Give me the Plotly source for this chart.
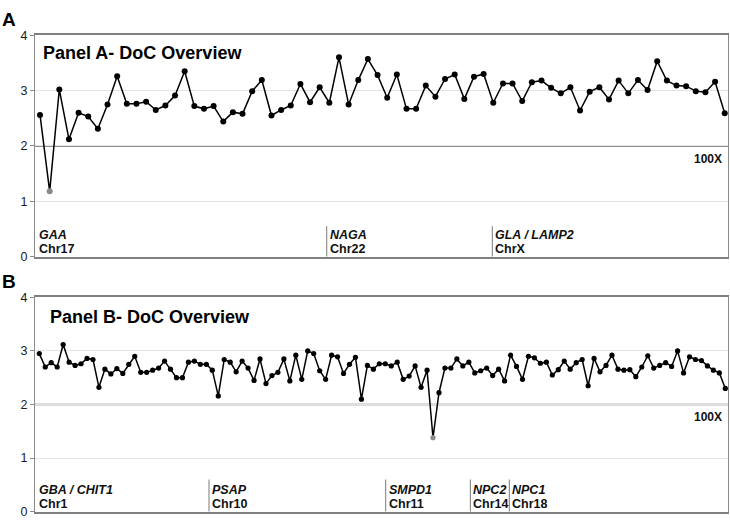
import plotly.graph_objects as go

# ---------------- data ----------------
panel_a_values = [
    2.56, 1.18, 3.02, 2.12, 2.60, 2.53, 2.31, 2.75, 3.26, 2.76,
    2.76, 2.80, 2.65, 2.73, 2.91, 3.35, 2.72, 2.67, 2.72, 2.44,
    2.61, 2.58, 2.99, 3.19, 2.55, 2.65, 2.73, 3.12, 2.79, 3.06,
    2.78, 3.60, 2.75, 3.19, 3.57, 3.28, 2.87, 3.29, 2.67, 2.67,
    3.09, 2.89, 3.21, 3.29, 2.85, 3.25, 3.30, 2.78, 3.13, 3.13,
    2.81, 3.15, 3.18, 3.05, 2.95, 3.06, 2.64, 2.98, 3.06, 2.84,
    3.18, 2.95, 3.19, 3.01, 3.53, 3.18, 3.09, 3.08, 2.99, 2.97,
    3.16, 2.59,
]
panel_b_values = [
    2.95, 2.70, 2.78, 2.70, 3.12, 2.79, 2.73, 2.76, 2.86, 2.84,
    2.32, 2.66, 2.57, 2.67, 2.58, 2.75, 2.90, 2.60, 2.60, 2.64,
    2.68, 2.81, 2.66, 2.50, 2.50, 2.79, 2.81, 2.75, 2.75, 2.64,
    2.16, 2.84, 2.79, 2.61, 2.81, 2.68, 2.45, 2.85, 2.39, 2.54,
    2.60, 2.85, 2.44, 2.92, 2.47, 3.00, 2.95, 2.63, 2.47, 2.92,
    2.89, 2.58, 2.75, 2.88, 2.10, 2.73, 2.66, 2.76, 2.76, 2.72,
    2.79, 2.47, 2.53, 2.72, 2.32, 2.64, 1.38, 2.22, 2.68, 2.68,
    2.85, 2.72, 2.79, 2.59, 2.63, 2.68, 2.54, 2.66, 2.44, 2.92,
    2.71, 2.47, 2.90, 2.87, 2.77, 2.79, 2.55, 2.65, 2.81, 2.66,
    2.78, 2.84, 2.35, 2.86, 2.61, 2.73, 2.92, 2.66, 2.64, 2.65,
    2.52, 2.70, 2.91, 2.68, 2.73, 2.78, 2.71, 3.00, 2.59, 2.89,
    2.84, 2.82, 2.72, 2.64, 2.59, 2.30,
]

panel_a_genes = ["GAA", "NAGA", "GLA / LAMP2"]
panel_a_chroms = ["Chr17", "Chr22", "ChrX"]
panel_a_gene_starts = [None, 29.73, 46.9]   # None = starts at the axis

panel_b_genes = ["GBA / CHIT1", "PSAP", "SMPD1", "NPC2", "NPC1"]
panel_b_chroms = ["Chr1", "Chr10", "Chr11", "Chr14", "Chr18"]
panel_b_gene_starts = [None, 28.45, 58.07, 72.26, 78.79]

y_tick_values = [0, 1, 2, 3, 4]
threshold_value = 2
threshold_label = "100X"

panel_titles = ["Panel A- DoC Overview", "Panel B- DoC Overview"]
panel_letters = ["A", "B"]

# ---------------- style ----------------
FONT = "Liberation Sans, Arial, Helvetica, sans-serif"
W, H = 730, 524

def py(px):
    return 1 - px / H

fig = go.Figure()

panels = [
    dict(vals=panel_a_values, genes=panel_a_genes, chroms=panel_a_chroms,
         starts=panel_a_gene_starts, xa="x", ya="y",
         dom=[py(256.5), py(29)], xrange=[-0.52, 71.34], msize=6, sep_top=0.55),
    dict(vals=panel_b_values, genes=panel_b_genes, chroms=panel_b_chroms,
         starts=panel_b_gene_starts, xa="x2", ya="y2",
         dom=[py(518.5), py(298.3)], xrange=[-0.72, 115.45], msize=5.2, sep_top=0.6),
]

shapes = []
annotations = []

for k, p in enumerate(panels):
    vals = p["vals"]
    xs = list(range(len(vals)))
    colors = ["#8a8a8a" if v < threshold_value else "#000000" for v in vals]
    fig.add_trace(go.Scatter(
        x=xs, y=vals, mode="lines+markers",
        line=dict(color="#000000", width=1.5),
        marker=dict(size=p["msize"], color=colors),
        xaxis=p["xa"], yaxis=p["ya"], showlegend=False, hoverinfo="skip",
    ))
    sfx = "" if k == 0 else "2"
    xref_dom = f"x{sfx} domain"
    # threshold line
    shapes.append(dict(type="line", xref=xref_dom, yref=p["ya"],
                       x0=0, x1=1, y0=threshold_value, y1=threshold_value,
                       line=dict(color="#6e6e6e", width=1.5), layer="below"))
    annotations.append(dict(xref=xref_dom, yref=p["ya"], x=1, y=threshold_value,
                            xanchor="right", yanchor="middle", xshift=-4, yshift=-13,
                            text=f"<b>{threshold_label}</b>", showarrow=False,
                            font=dict(family=FONT, size=12, color="#111")))
    # gene labels
    for g, c, s in zip(p["genes"], p["chroms"], p["starts"]):
        xpos = p["xrange"][0] if s is None else s
        if s is not None:
            shapes.append(dict(type="line", xref=p["xa"], yref=p["ya"],
                               x0=s, x1=s, y0=0, y1=p["sep_top"],
                               line=dict(color="#7a7a7a", width=1)))
        annotations.append(dict(xref=p["xa"], yref=p["ya"], x=xpos, y=0,
                                xanchor="left", yanchor="middle",
                                xshift=1 if s is not None else 2, yshift=21.5,
                                text=f"<b><i>{g}</i></b>", showarrow=False,
                                font=dict(family=FONT, size=12.5, color="#111")))
        annotations.append(dict(xref=p["xa"], yref=p["ya"], x=xpos, y=0,
                                xanchor="left", yanchor="middle",
                                xshift=1 if s is not None else 2, yshift=7.5,
                                text=f"<b>{c}</b>", showarrow=False,
                                font=dict(family=FONT, size=12.5, color="#111")))

# panel titles
annotations.append(dict(xref="paper", yref="paper", x=41 / W, y=py(47),
                        xanchor="left", yanchor="middle", showarrow=False,
                        text=f"<b>{panel_titles[0]}</b>",
                        font=dict(family=FONT, size=18, color="#000")))
annotations.append(dict(xref="paper", yref="paper", x=47.5 / W, y=py(319),
                        xanchor="left", yanchor="middle", showarrow=False,
                        text=f"<b>{panel_titles[1]}</b>",
                        font=dict(family=FONT, size=18, color="#000")))
# panel letters
annotations.append(dict(xref="paper", yref="paper", x=9 / W, y=py(13),
                        xanchor="center", yanchor="middle", showarrow=False,
                        text=f"<b>{panel_letters[0]}</b>",
                        font=dict(family=FONT, size=19, color="#000")))
annotations.append(dict(xref="paper", yref="paper", x=9 / W, y=py(282),
                        xanchor="center", yanchor="middle", showarrow=False,
                        text=f"<b>{panel_letters[1]}</b>",
                        font=dict(family=FONT, size=19, color="#000")))

xdom = [35 / W, 728 / W]
xcommon = dict(domain=xdom, showgrid=False, zeroline=False, showticklabels=False,
               ticks="", showline=True, linecolor="#808080", linewidth=1.5, mirror=True)
ycommon = dict(range=[0, 4], tickvals=y_tick_values, showgrid=True,
               gridcolor="#e2e2e2", gridwidth=1, zeroline=False,
               ticks="outside", ticklen=4, tickcolor="#8a8a8a",
               showline=True, linecolor="#8a8a8a", linewidth=1.2, mirror=True,
               tickfont=dict(family=FONT, size=12.5, color="#1a1a1a"))

fig.update_layout(
    width=W, height=H,
    margin=dict(l=0, r=0, t=0, b=0),
    paper_bgcolor="white", plot_bgcolor="white",
    xaxis=dict(**xcommon, range=panels[0]["xrange"], anchor="y"),
    yaxis=dict(**ycommon, domain=panels[0]["dom"], anchor="x"),
    xaxis2=dict(**xcommon, range=panels[1]["xrange"], anchor="y2"),
    yaxis2=dict(**ycommon, domain=panels[1]["dom"], anchor="x2"),
    shapes=shapes, annotations=annotations,
    font=dict(family=FONT),
)

fig.write_html(
    "out.html",
    config={"displayModeBar": False},
    post_script="document.body.style.margin='0';document.body.style.padding='0';document.body.style.overflow='hidden';",
)
